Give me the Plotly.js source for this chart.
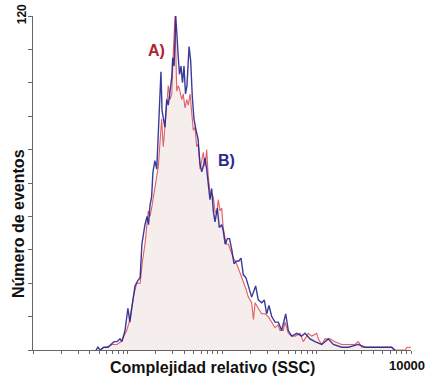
<!DOCTYPE html>
<html>
<head>
<meta charset="utf-8">
<script src="https://cdn.plot.ly/plotly-3.0.1.min.js"></script>
<style>html,body{margin:0;padding:0;background:#fff;}#chart{width:430px;height:376px;}</style>
</head>
<body>
<div id="chart"></div>
<script>
// Series B (blue): SSC value and number of events
const sscB = [4.64,4.87,5.12,5.64,6.22,6.69,7.20,7.74,8.33,8.74,9.41,10.1,10.6,11.2,12.0,12.9,13.6,14.2,14.8,15.3,16.1,16.7,17.3,18.0,18.6,19.5,20.4,21.2,22.1,22.6,23.2,23.9,24.9,26.0,27.0,28.2,29.4,30.1,31.1,32.4,33.4,34.5,35.5,36.8,38.2,39.6,41.1,42.6,44.8,46.6,48.5,50.5,53.1,55.7,58.5,61.0,63.4,66.1,68.9,71.6,74.6,77.8,80.9,84.3,89.2,93.6,99.3,103,108,114,120,127,134,143,151,159,168,179,190,206,227,242,263,280,297,314,336,364,394,428,472,503,547,617,697,755,854,964,1135,1333,1506,1848,2170,2768,3260,3838,4508,5307,6250,6772];
const eventsB = [0,1,0,1,1,2,3,3,4,3,7,15,10,16,23,25,26,38,43,45,48,45,52,55,64,68,65,77,95,100,86,83,80,90,88,93,98,105,102,120,111,105,99,102,96,102,92,95,109,104,91,83,79,76,67,64,66,69,65,59,54,58,50,46,51,44,45,43,38,40,40,36,31,32,32,33,27,26,23,19,23,18,17,18,13,16,12,10,10,7,13,7,5,6,5,6,4,3,2,4,2,1,1,2,1,1,1,1,1,0];

// Series A (red)
const sscA = [5.24,5.50,6.07,6.85,7.74,8.53,9.18,9.81,10.4,11.1,11.7,12.5,13.6,14.4,15.3,16.6,17.3,18.0,18.8,19.5,20.4,21.2,22.1,23.0,23.9,24.9,26.0,27.0,28.2,29.4,30.5,31.8,33.2,34.5,35.9,37.5,38.9,40.6,42.3,44.0,45.9,47.8,49.7,51.8,54.0,56.1,58.5,61.0,63.4,66.1,68.9,71.6,74.6,77.8,80.9,84.3,87.9,91.4,95.2,99.3,103,108,112,117,122,127,132,143,155,168,179,190,206,215,224,242,263,285,309,336,364,391,411,445,464,503,547,592,669,725,755,819,890,1005,1045,1135,1230,1390,1570,1848,2170,2555,2768,3030,3260,3838,4897,5534,6250,6609,8640,9073,10250,10500];
const eventsA = [0,1,1,2,2,3,5,7,10,16,20,24,24,32,38,50,48,51,55,59,62,66,75,83,73,80,89,95,90,92,107,120,93,95,93,90,92,87,90,88,92,86,79,80,73,74,65,68,71,66,72,62,57,56,55,50,49,54,50,51,44,40,38,38,36,34,33,31,28,25,22,19,17,11,17,15,13,13,12,10,8,9,7,7,10,6,5,5,6,3,4,6,5,6,4,2,4,4,3,2,2,2,3,1,1,1,1,1,1,0,0,1,1,0];

// Axis ticks and labels
const xTickVals = [1,2,3,4,5,6,7,8,9,10,20,30,40,50,60,70,80,90,100,200,300,400,500,600,700,800,900,1000,2000,3000,4000,5000,6000,7000,8000,9000,10000];
const xTickText = xTickVals.map(v => v === 10000 ? '10000' : '');
const yTickVals = [0,12,24,36,48,60,72,84,96,108,120];
const yTickText = yTickVals.map(v => v === 120 ? '120' : '');

const xTitle = 'Complejidad relativo (SSC)';
const yTitle = 'Número de eventos';
const labelA = 'A)';
const labelB = 'B)';

const FONT = 'Liberation Sans, Arial, sans-serif';

const traces = [
  {
    x: sscA, y: eventsA, type: 'scatter', mode: 'lines', name: 'A',
    line: {color: 'rgba(215,45,55,0.75)', width: 1.1},
    fill: 'tozeroy', fillcolor: '#f6eded', hoverinfo: 'x+y'
  },
  {
    x: sscB, y: eventsB, type: 'scatter', mode: 'lines', name: 'B',
    line: {color: 'rgba(32,32,140,0.88)', width: 1.4}, hoverinfo: 'x+y'
  }
];

const layout = {
  width: 430, height: 376,
  margin: {l: 33, r: 19, t: 16, b: 26, pad: 0},
  paper_bgcolor: '#fff', plot_bgcolor: '#fff',
  showlegend: false,
  font: {family: FONT, color: '#111'},
  xaxis: {
    type: 'log', range: [0, 4],
    showgrid: false, zeroline: false,
    showline: true, linecolor: '#666', linewidth: 1,
    ticks: 'outside', ticklen: 3, tickcolor: '#666', tickwidth: 1,
    tickmode: 'array', tickvals: xTickVals, ticktext: xTickText,
    ticklabelshift: -4,
    tickfont: {family: FONT, size: 13, color: '#111', weight: 'bold'}
  },
  yaxis: {
    range: [0, 120],
    showgrid: false, zeroline: false,
    showline: true, linecolor: '#666', linewidth: 1,
    ticks: 'outside', ticklen: 4, tickcolor: '#666', tickwidth: 1,
    tickmode: 'array', tickvals: yTickVals, ticktext: yTickText,
    tickangle: -90, ticklabelstandoff: -3,
    tickfont: {family: FONT, size: 12, color: '#111', weight: 'bold'}
  },
  annotations: [
    {text: xTitle, xref: 'paper', yref: 'paper', x: 0.476, y: -0.051,
     xanchor: 'center', yanchor: 'middle', showarrow: false,
     font: {family: FONT, size: 16, color: '#111', weight: 'bold'}},
    {text: yTitle, xref: 'paper', yref: 'paper', x: -0.04, y: 0.38,
     xanchor: 'center', yanchor: 'middle', showarrow: false, textangle: -90,
     font: {family: FONT, size: 16, color: '#111', weight: 'bold'}},
    {text: labelA, xref: 'paper', yref: 'paper', x: 0.3254, y: 0.898,
     xanchor: 'center', yanchor: 'middle', showarrow: false,
     font: {family: FONT, size: 16, color: '#b0202e', weight: 'bold'}},
    {text: labelB, xref: 'paper', yref: 'paper', x: 0.5106, y: 0.567,
     xanchor: 'center', yanchor: 'middle', showarrow: false,
     font: {family: FONT, size: 16, color: '#2a2a90', weight: 'bold'}}
  ]
};

Plotly.newPlot('chart', traces, layout, {displayModeBar: false, staticPlot: true});
</script>
</body>
</html>
